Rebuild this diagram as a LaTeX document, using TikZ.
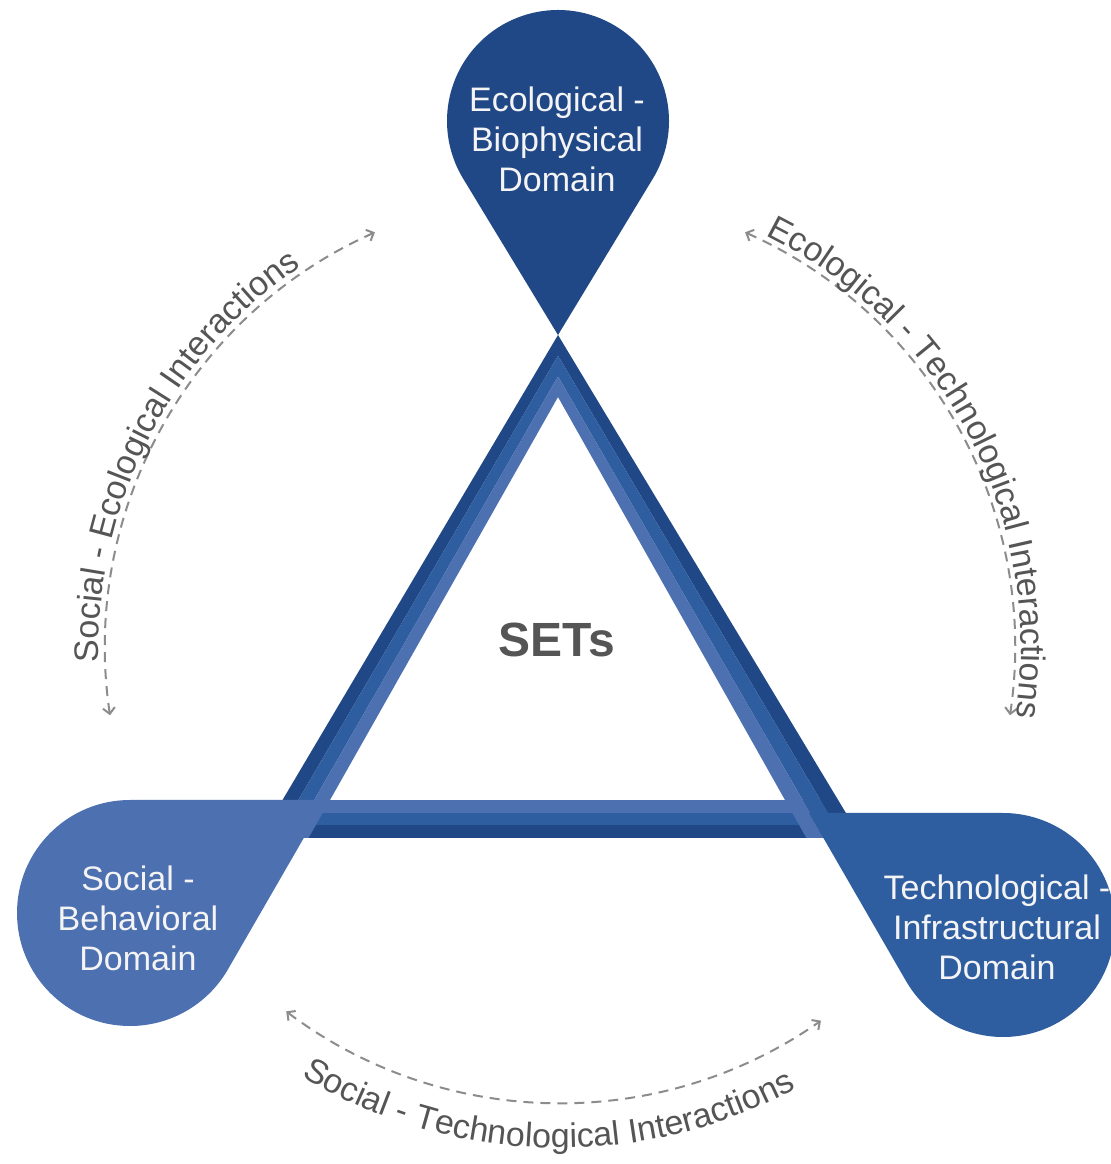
\documentclass[tikz,border=0pt]{standalone}
\usepackage{fontspec}
\setmainfont{Liberation Sans}
\usetikzlibrary{calc,decorations.text,arrows.meta}
\definecolor{cdark}{HTML}{214886}
\definecolor{cmid}{HTML}{2E5DA0}
\definecolor{clight}{HTML}{4C70B0}
\definecolor{clabel}{HTML}{555555}
\definecolor{cdash}{HTML}{8C8C8C}
\definecolor{cdomtext}{HTML}{F4F4F4}
\newcommand{\arclabelfont}{\fontsize{17}{20}\selectfont}
\begin{document}
\begin{tikzpicture}[x=0.5pt,y=0.5pt,
  domaintext/.style={text=cdomtext, align=center, font=\fontsize{17}{20}\selectfont, inner sep=0pt},
  dasharc/.style={draw=cdash, line width=1pt, dash pattern=on 5pt off 3.5pt,
    >={Straight Barb[length=3pt,width=6pt]}, <->},
  arctext/.style={decorate, decoration={text along path, text align=center, text color=clabel}},
]
\fill[white] (0,0) rectangle (1111,1164);
\useasboundingbox (0,0) rectangle (1111,1164);
\coordinate (O) at (560,516);

% bottom bar
\fill[clight] (250,364) rectangle (836,351.33);
\fill[cmid] (250,351.33) rectangle (836,338.67);
\fill[cdark] (250,338.67) rectangle (836,326);

% left bar
\fill[cdark] (558,829) -- (260,326) -- (276.17,326) -- (558,808.33) -- cycle;
\fill[cmid] (558,808.33) -- (276.17,326) -- (292.33,326) -- (558,787.67) -- cycle;
\fill[clight] (558,787.67) -- (292.33,326) -- (308.5,326) -- (558,767) -- cycle;

% right bar
\fill[cdark] (558,829) -- (861,326) -- (842.8,326) -- (558,808.33) -- cycle;
\fill[cmid] (558,808.33) -- (842.8,326) -- (824.6,326) -- (558,787.67) -- cycle;
\fill[clight] (558,787.67) -- (824.6,326) -- (806.4,326) -- (558,767) -- cycle;

% drops
\fill[cdark] (558,829) -- ($(558,1043)+(328.75:111)$) arc[start angle=328.75, end angle=571.25, radius=111] -- cycle;
\fill[clight] (325.7,364) -- (130,364) arc[start angle=90, end angle=330, radius=113] -- cycle;
\fill[cmid] (809,351) -- ($(1003,239)+(210:112)$) arc[start angle=210, end angle=450, radius=112] -- cycle;

% domain labels
\node[domaintext] (eco) at (557,1025) {Ecological -\\Biophysical\\Domain};
\node[domaintext] (soc) at (138,246) {Social -\\Behavioral\\Domain};
\node[domaintext] (tech) at (997,237) {Technological -\\Infrastructural\\Domain};
\node[text=clabel, font=\fontsize{24}{28}\selectfont\bfseries] (sets) at (557,524) {SETs};

% dashed interaction arcs
\coordinate (seA) at ($(O)+(188.5:455)$);
\coordinate (etA) at ($(O)+(66:455)$);
\coordinate (stA) at ($(O)+(233:455)$);
\draw[dasharc] (seA) arc[start angle=188.5, end angle=114, radius=455];
\draw[dasharc] (etA) arc[start angle=66, end angle=-8.5, radius=455];
\draw[dasharc] (stA) arc[start angle=233, end angle=305, radius=455];

% arc labels
\path[arctext, decoration={text={|\arclabelfont|Social - Ecological Interactions}}]
  ($(O)+(197:461)$) arc[start angle=197, end angle=109, radius=461];
\path[arctext, decoration={text={|\arclabelfont|Ecological - Technological Interactions}}]
  ($(O)+(70:461)$) arc[start angle=70, end angle=-15, radius=461];
\path[arctext, decoration={text={|\arclabelfont|Social - Technological Interactions}}]
  ($(O)+(227:500)$) arc[start angle=227, end angle=310, radius=500];
\end{tikzpicture}
\end{document}
